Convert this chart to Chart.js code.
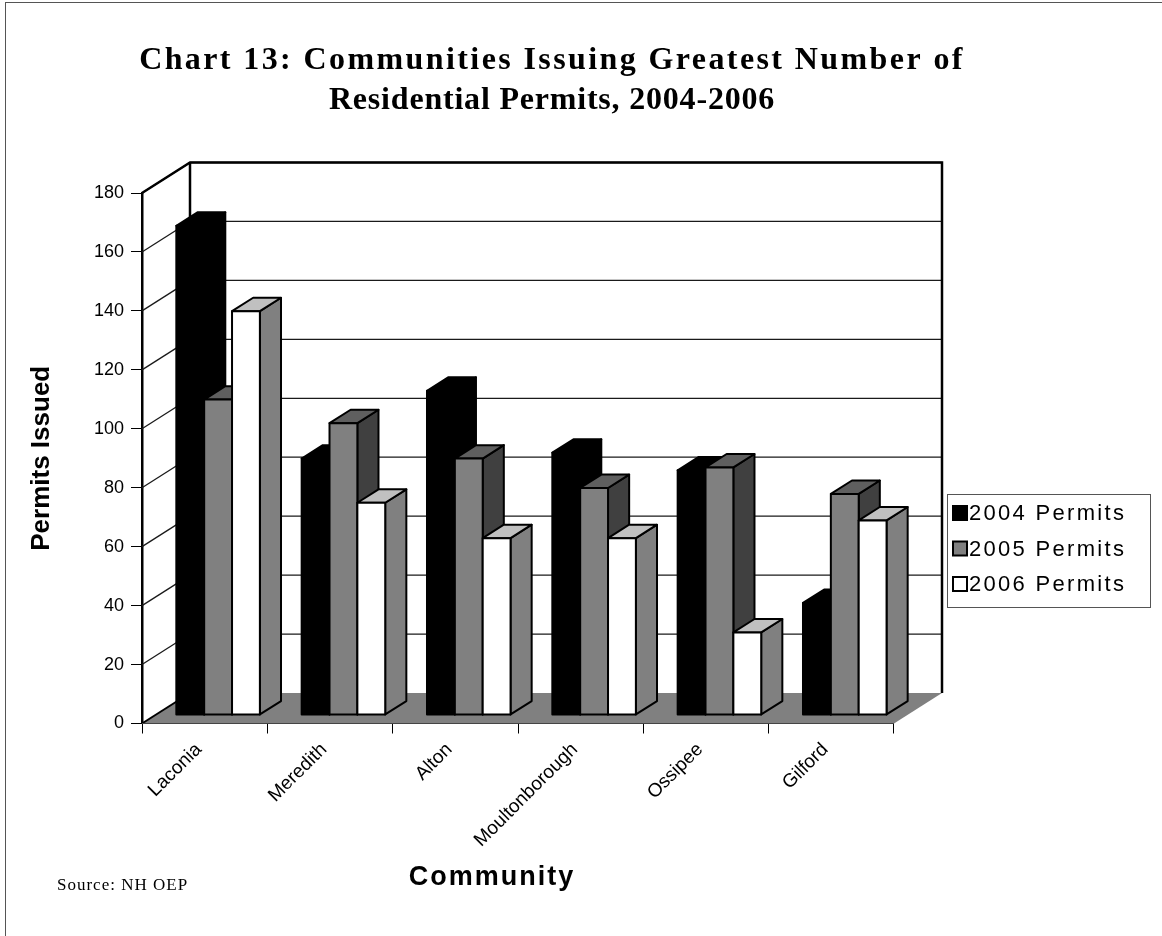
<!DOCTYPE html>
<html>
<head>
<meta charset="utf-8">
<title>Residential Permits 2004-2006</title>
<script src="https://cdn.jsdelivr.net/npm/chart.js@4.4.1/dist/chart.umd.min.js"></script>
<style>
  html, body { margin: 0; padding: 0; background: #fff; }
  #permitsChart { display: block; }
</style>
</head>
<body>
<canvas id="permitsChart" width="1162" height="936"></canvas>
<script>
let communities = ['Laconia', 'Meredith', 'Alton', 'Moultonborough', 'Ossipee', 'Gilford'];
let permits2004 = [166, 87, 110, 89, 83, 38];
let permits2005 = [107, 99, 87, 77, 84, 75];
let permits2006 = [137, 72, 60, 60, 28, 66];
let seriesLabels = ['2004 Permits', '2005 Permits', '2006 Permits'];
let valueTicks = [0, 20, 40, 60, 80, 100, 120, 140, 160, 180];

// front / top / side shading for each series
let faceColors = [
    { front: '#000000', top: '#000000', side: '#000000' },
    { front: '#808080', top: '#5f5f5f', side: '#404040' },
    { front: '#ffffff', top: '#c0c0c0', side: '#808080' }
];

// depth of the plot box, and where the bars sit inside it (0 = front, 1 = back)
let depthX = 48, depthY = -30.5;
let barFront = 0.28, barBack = 0.72;

function poly(ctx, pts) {
    ctx.beginPath();
    ctx.moveTo(pts[0][0], pts[0][1]);
    for (let i = 1; i < pts.length; i++) ctx.lineTo(pts[i][0], pts[i][1]);
    ctx.closePath();
}

function line(ctx, x1, y1, x2, y2) {
    ctx.beginPath();
    ctx.moveTo(x1, y1);
    ctx.lineTo(x2, y2);
    ctx.stroke();
}

let box3d = {
    id: 'box3d',
    beforeDatasetsDraw(chart) {
        let ctx = chart.ctx;
        let a = chart.chartArea;
        let yScale = chart.scales.y;
        ctx.save();

        // floor
        ctx.fillStyle = '#808080';
        poly(ctx, [[a.left, a.bottom], [a.right, a.bottom], [a.right + depthX, a.bottom + depthY], [a.left + depthX, a.bottom + depthY]]);
        ctx.fill();
        ctx.strokeStyle = '#000';
        ctx.lineWidth = 2;
        line(ctx, a.left, a.bottom, a.left + depthX, a.bottom + depthY);
        ctx.strokeStyle = '#444';
        ctx.lineWidth = 1;
        line(ctx, a.left, a.bottom, a.right, a.bottom);

        // gridlines on the back wall and the left wall
        ctx.strokeStyle = '#1a1a1a';
        ctx.lineWidth = 1.3;
        valueTicks.forEach(v => {
            if (v === 0) return;
            let py = yScale.getPixelForValue(v);
            line(ctx, a.left + depthX, py + depthY, a.right + depthX, py + depthY);
            line(ctx, a.left, py, a.left + depthX, py + depthY);
        });

        // wall edges
        ctx.strokeStyle = '#000';
        ctx.lineWidth = 2.5;
        ctx.beginPath();
        ctx.moveTo(a.left, a.top);
        ctx.lineTo(a.left + depthX, a.top + depthY);
        ctx.lineTo(a.right + depthX, a.top + depthY);
        ctx.lineTo(a.right + depthX, a.bottom + depthY);
        ctx.stroke();
        line(ctx, a.left + depthX, a.top + depthY, a.left + depthX, a.bottom + depthY);

        // bars, left to right so each one covers the side of the one before
        let fx = depthX * barFront, fy = depthY * barFront;
        let bx = depthX * (barBack - barFront), by = depthY * (barBack - barFront);
        ctx.lineWidth = 2;
        ctx.lineJoin = 'round';
        for (let i = 0; i < communities.length; i++) {
            chart.data.datasets.forEach((ds, d) => {
                let el = chart.getDatasetMeta(d).data[i];
                let p = el.getProps(['x', 'y', 'base', 'width'], true);
                let xl = p.x - p.width / 2 + fx, xr = p.x + p.width / 2 + fx;
                let yt = p.y + fy, yb = p.base + fy;
                let c = faceColors[d];

                ctx.fillStyle = c.side;
                poly(ctx, [[xr, yb], [xr, yt], [xr + bx, yt + by], [xr + bx, yb + by]]);
                ctx.fill(); ctx.stroke();

                ctx.fillStyle = c.top;
                poly(ctx, [[xl, yt], [xr, yt], [xr + bx, yt + by], [xl + bx, yt + by]]);
                ctx.fill(); ctx.stroke();

                ctx.fillStyle = c.front;
                poly(ctx, [[xl, yb], [xr, yb], [xr, yt], [xl, yt]]);
                ctx.fill(); ctx.stroke();
            });
        }
        ctx.restore();
        return false;
    },
    afterDraw(chart) {
        let ctx = chart.ctx;
        ctx.save();

        // outer frame
        ctx.strokeStyle = '#555';
        ctx.lineWidth = 1;
        ctx.strokeRect(5.5, 2.5, 1170, 950);

        // title
        ctx.fillStyle = '#000';
        ctx.textAlign = 'center';
        ctx.textBaseline = 'middle';
        ctx.font = 'bold 32px "Liberation Serif"';
        ctx.letterSpacing = '2.4px';
        ctx.fillText('Chart 13: Communities Issuing Greatest Number of', 552, 61);
        ctx.letterSpacing = '0.8px';
        ctx.fillText('Residential Permits, 2004-2006', 552, 101);

        // x axis title
        ctx.font = 'bold 27px "Liberation Sans"';
        ctx.letterSpacing = '2px';
        ctx.fillText('Community', 492, 878);

        // source note
        ctx.textAlign = 'left';
        ctx.font = '17px "Liberation Serif"';
        ctx.letterSpacing = '1px';
        ctx.fillText('Source: NH OEP', 57, 886);

        // legend
        ctx.letterSpacing = '2.3px';
        ctx.strokeStyle = '#555';
        ctx.lineWidth = 1;
        ctx.strokeRect(947.5, 494.5, 203, 113);
        ctx.font = '22px "Liberation Sans"';
        chart.data.datasets.forEach((ds, d) => {
            let cy = 513 + d * 35.5;
            ctx.fillStyle = faceColors[d].front;
            ctx.fillRect(953, cy - 7, 14, 14);
            ctx.lineWidth = 2;
            ctx.strokeStyle = '#000';
            ctx.strokeRect(953, cy - 7, 14, 14);
            ctx.fillStyle = '#000';
            ctx.fillText(ds.label, 969, cy + 1);
        });
        ctx.restore();
    }
};

let ctx = document.getElementById('permitsChart').getContext('2d');
let permitsChart = new Chart(ctx, {
    type: 'bar',
    data: {
        labels: communities,
        datasets: [
            { label: seriesLabels[0], data: permits2004, backgroundColor: faceColors[0].front },
            { label: seriesLabels[1], data: permits2005, backgroundColor: faceColors[1].front },
            { label: seriesLabels[2], data: permits2006, backgroundColor: faceColors[2].front }
        ]
    },
    options: {
        responsive: false,
        animation: false,
        categoryPercentage: 3 / 4.5,
        barPercentage: 1,
        layout: { padding: { left: 20, top: 193, right: 268, bottom: 40 } },
        plugins: {
            legend: { display: false },
            tooltip: { enabled: false }
        },
        scales: {
            x: {
                offset: true,
                afterFit: (axis) => { axis.height = 172.5; },
                grid: { offset: true, drawOnChartArea: false, tickLength: 10, color: '#000', lineWidth: 1 },
                border: { display: false },
                ticks: {
                    autoSkip: false, minRotation: 45, maxRotation: 45, padding: 5, labelOffset: -6,
                    color: '#000', font: { family: 'Liberation Sans', size: 19 }
                }
            },
            y: {
                min: 0,
                max: 180,
                afterFit: (axis) => { axis.width = 122; },
                afterBuildTicks: (axis) => { axis.ticks = valueTicks.map(v => ({ value: v })); },
                grid: { drawOnChartArea: false, tickLength: 11, color: '#000', lineWidth: 1 },
                border: { display: true, color: '#000', width: 2.5 },
                ticks: { padding: 7, color: '#000', font: { family: 'Liberation Sans', size: 18 } },
                title: {
                    display: true, text: 'Permits Issued', color: '#000',
                    font: { family: 'Liberation Sans', size: 26, weight: 'bold' },
                    padding: { top: 6, bottom: 0 }
                }
            }
        }
    },
    plugins: [box3d]
});
</script>
</body>
</html>
